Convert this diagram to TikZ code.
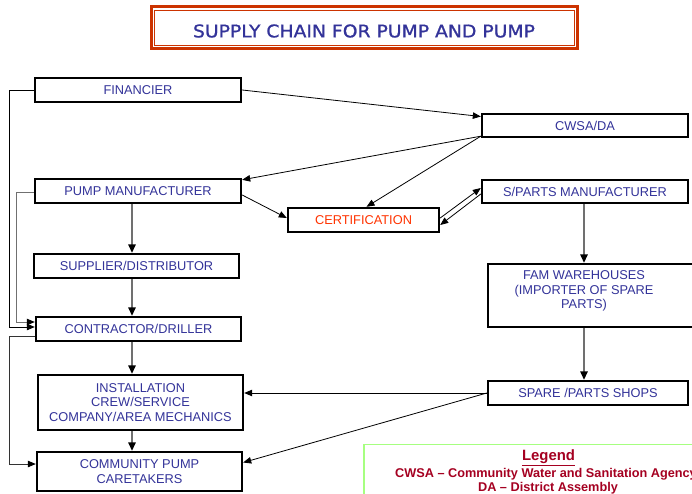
\documentclass[tikz,border=0pt]{standalone}
\usepackage{fontspec}
\setmainfont{Liberation Sans}
\newfontfamily\titlefont[FakeBold=0.9]{DejaVu Sans Condensed}
\usetikzlibrary{arrows.meta,calc}
\definecolor{boxtext}{HTML}{333399}
\definecolor{certred}{HTML}{FF3300}
\definecolor{frame}{HTML}{CC3300}
\definecolor{legendred}{HTML}{A50021}
\definecolor{legendgreen}{HTML}{A6FF80}
\definecolor{linkgray}{HTML}{707070}
\begin{document}
\begin{tikzpicture}[x=1pt,y=-1pt,
  stagebox/.style={draw=black, line width=2.4pt, fill=white, inner sep=0pt,
    align=center, text=boxtext, font=\fontsize{12.8}{14.5}\selectfont},
  link/.style={draw=black, line width=0.8pt, -{Triangle[length=8pt,width=6.5pt,color=black,fill=black]}},
  flow/.style={draw=linkgray, line width=1.4pt, -{Triangle[length=8.5pt,width=7.5pt,color=black,fill=black]}},
]
\useasboundingbox (0,0) rectangle (692,494);
\clip (0,0) rectangle (692,494);

% heading with a double red frame
\draw[frame, line width=3pt] (151.5,6.5) rectangle (577.5,48.5);
\draw[frame, line width=0.8pt] (154.5,10) rectangle (574.5,45.5);
\node[inner sep=0pt, text=boxtext] (title) at (364,31)
  {\resizebox{342pt}{13pt}{\titlefont SUPPLY CHAIN FOR PUMP AND PUMP}};

% stages of the chain
\node[stagebox, minimum width=206pt, minimum height=24pt] (fin)   at (138,90)    {FINANCIER};
\node[stagebox, minimum width=206pt, minimum height=23pt] (cwsa)  at (585,125.5) {CWSA/DA};
\node[stagebox, minimum width=206pt, minimum height=24pt] (pman)  at (138,191)   {PUMP MANUFACTURER};
\node[stagebox, minimum width=151pt, minimum height=24pt, text=certred] (cert) at (363.5,220) {CERTIFICATION};
\node[stagebox, minimum width=206pt, minimum height=23pt] (spm)   at (585,191.5) {S/PARTS MANUFACTURER};
\node[stagebox, minimum width=205pt, minimum height=24pt] (supp)  at (136.5,266) {SUPPLIER/DISTRIBUTOR};
\node[stagebox, minimum width=205pt, minimum height=24pt] (contr) at (138.5,329) {CONTRACTOR/DRILLER};
\node[stagebox, minimum width=205pt, minimum height=55pt] (inst)  at (140.5,402.5)
  {INSTALLATION\\CREW/SERVICE\\COMPANY/AREA MECHANICS};
\node[stagebox, minimum width=205pt, minimum height=39pt] (comm)  at (139.5,471.5)
  {COMMUNITY PUMP\\CARETAKERS};
\node[stagebox, minimum width=205pt, minimum height=63pt] (fam)   at (590.5,295.5) {};
\node[text=boxtext, align=center, inner sep=0pt, font=\fontsize{12.8}{14.5}\selectfont] (famtext) at (584,291)
  {FAM WAREHOUSES\\(IMPORTER OF SPARE\\PARTS)};
\node[stagebox, minimum width=200pt, minimum height=24pt] (shops) at (588,393) {SPARE /PARTS SHOPS};

% x positions of the vertical flows and the left-hand rails
\coordinate (vl) at (132,0);
\coordinate (vr) at (584,0);
\coordinate (railA) at (9,0);
\coordinate (railB) at (16,0);

% diagonal links in the upper part
\draw[link] (fin.east) -- ([yshift=9pt]cwsa.west);
\draw[link] ([yshift=2pt]cwsa.south west) -- ([yshift=-2pt]pman.north east);
\draw[link] ([yshift=2pt]cwsa.south west) -- ([xshift=3pt]cert.north);
\draw[link] ([yshift=-4pt]pman.east) -- ([yshift=2pt]cert.west);
\draw[link] ([yshift=2pt]cert.east) -- ([yshift=3.5pt]spm.west);
\draw[link] ([yshift=-2.5pt]spm.west) -- ([yshift=-5pt]cert.east);

% vertical flows
\draw[flow] (pman.south -| vl) -- (supp.north -| vl);
\draw[flow] (supp.south -| vl) -- (contr.north -| vl);
\draw[flow] (contr.south -| vl) -- (inst.north -| vl);
\draw[flow] (inst.south -| vl) -- (comm.north -| vl);
\draw[flow] (spm.south -| vr) -- (fam.north -| vr);
\draw[flow] (fam.south -| vr) -- (shops.north -| vr);

% spare parts shops feed the mechanics and the caretakers
\draw[link] (shops.west) -- (shops.west -| inst.east);
\draw[link] (shops.west) -- ([yshift=9pt]comm.east);

% left-hand rails
\draw[link] (fin.west) -- (fin.west -| railA) |- ([yshift=2pt]contr.west);
\draw[link, draw=linkgray] ([yshift=-1.5pt]pman.west) -- ([yshift=-1.5pt]pman.west -| railB) |- ([yshift=7pt]contr.west);
\draw[link, draw=black!80] ([yshift=-7pt]contr.west) -- ([yshift=-7pt]contr.west -| railA) |- ([yshift=7.5pt]comm.west);

% legend
\draw[legendgreen, line width=1.5pt, fill=white] (364,444.5) rectangle (740,520);
\node[text=legendred, inner sep=0pt, font=\bfseries\fontsize{14.9}{16}\selectfont] (leghead) at (548.5,458) {\underline{Legend}};
\node[text=legendred, inner sep=0pt, font=\bfseries\fontsize{12.7}{14}\selectfont] (legA) at (546,474) {CWSA -- Community Water and Sanitation Agency};
\node[text=legendred, inner sep=0pt, font=\bfseries\fontsize{12.7}{14}\selectfont] (legB) at (548,488) {DA -- District Assembly};
\end{tikzpicture}
\end{document}
